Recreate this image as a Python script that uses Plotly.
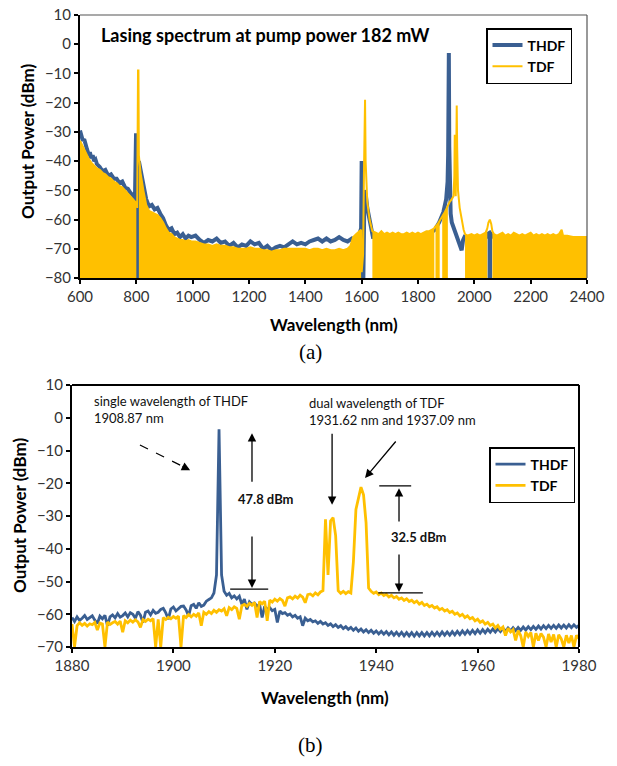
import plotly.graph_objects as go

# ---------------- Panel (a) data: full spectrum ----------------
wl_a_thdf = [600, 605, 610, 615, 620, 625, 630, 635, 640, 645, 650, 655, 660, 670, 680, 690, 700, 710, 720, 730,
             740, 750, 760, 770, 780, 790, 795, 799, 801, 802, 804, 806, 809, 815, 825, 835, 845, 855, 865, 875,
             885, 895, 905, 915, 925, 935, 945, 955, 965, 975, 985, 995, 1010, 1025, 1040, 1055, 1070, 1085, 1100,
             1115, 1130, 1145, 1160, 1175, 1190, 1205, 1220, 1235, 1250, 1265, 1280, 1295, 1310, 1325, 1340, 1355,
             1370, 1385, 1400, 1415, 1430, 1445, 1460, 1475, 1490, 1505, 1520, 1535, 1550, 1565, 1575, 1585, 1592,
             1598, 1600, 1601, 1603, 1606, 1610, 1615, 1620, 1625, 1630, 1635, 1640, 1660, 1700, 1750, 1800, 1840,
             1860, 1875, 1890, 1900, 1905, 1907, 1908.5, 1909.5, 1911, 1913, 1916, 1920, 1925, 1930, 1935, 1940,
             1945, 1950, 1955, 1960, 1965, 1975, 2000, 2030, 2043, 2047, 2055, 2063, 2080, 2150, 2250, 2350, 2400]
pw_a_thdf = [-29.5, -31, -33, -32.5, -35, -36, -37.5, -37, -39, -38, -40, -39.5, -41, -42, -43.5, -43, -45, -44.5, -46, -46,
             -47.5, -47, -49, -49.5, -51, -52, -53.5, -30.5, -52, -80, -80, -50, -40, -43, -48, -53, -55.5, -55, -56.5, -56,
             -58, -59.5, -62, -63.5, -63, -65, -64.5, -66, -65, -66.5, -65.5, -66, -65.5, -67, -68, -67, -67.5, -66.5, -68,
             -67.5, -69, -68, -69.5, -68.5, -69, -67.5, -68.5, -68, -70, -69, -70.5, -69.5, -69, -69.5, -68.5, -67.5,
             -68.5, -68, -68.5, -67.5, -67, -66.5, -67.5, -66.5, -67.5, -67, -66, -67, -67.5, -66.5, -67.5, -66, -65,
             -63, -40, -60, -80, -80, -50, -52, -56, -59, -62, -64, -66, -66, -66.5, -66.5, -66, -65,
             -63.5, -61, -57.5, -53, -47, -38, -10, -3, -35, -52, -58, -61, -62.5, -63.5, -65, -66.5,
             -68, -69.5, -70.5, -67, -66, -66.5, -67, -67, -66, -65, -64.5, -65.5, -67, -67, -67, -67, -67]

wl_a_tdf = [600, 605, 610, 620, 630, 640, 650, 660, 670, 680, 690, 700, 710, 720, 730, 740, 750, 760, 770, 780, 790,
            797, 800, 803, 806, 807.5, 809, 815, 825, 835, 845, 855, 865, 875, 885, 895, 905, 915, 925, 935, 945, 955,
            965, 975, 985, 995, 1010, 1025, 1040, 1055, 1070, 1085, 1100, 1115, 1130, 1145, 1160, 1175, 1190, 1205,
            1220, 1235, 1250, 1265, 1280, 1295, 1310, 1325, 1340, 1355, 1370, 1385, 1400, 1415, 1430, 1445, 1460,
            1475, 1490, 1505, 1520, 1535, 1550, 1560, 1570, 1580, 1590, 1598, 1600, 1605, 1608, 1610, 1612, 1614,
            1620, 1628, 1634, 1638, 1650, 1660, 1670, 1680, 1690, 1700, 1710, 1720, 1730, 1740, 1750, 1760, 1770,
            1780, 1790, 1800, 1810, 1820, 1830, 1840, 1850, 1858, 1860, 1862, 1870, 1877, 1880, 1886, 1895, 1900,
            1906, 1912, 1920, 1926, 1929, 1930.5, 1932, 1934, 1936, 1937.5, 1939, 1942, 1948, 1955, 1962, 1967,
            1975, 1990, 2000, 2010, 2020, 2030, 2040, 2046, 2050, 2055, 2060, 2064, 2070, 2080, 2090, 2100, 2110,
            2120, 2130, 2140, 2150, 2160, 2170, 2180, 2190, 2200, 2210, 2220, 2230, 2240, 2250, 2260, 2270, 2280,
            2290, 2300, 2310, 2315, 2330, 2350, 2370, 2390, 2400]
pw_a_tdf = [-33, -34, -35.5, -37, -39, -40.5, -41.5, -42.5, -43, -44, -44.5, -45.5, -46, -47, -47.5, -48.5, -49, -50, -51, -52, -53,
            -54, -54.5, -56, -9, -9, -38, -44, -50, -55, -57, -57.5, -58, -58.5, -59.5, -61, -63, -64.5, -65, -66, -66.5, -67,
            -67, -67.5, -67, -67.5, -67.5, -68, -68.5, -68.5, -69, -68.5, -69, -69, -69.5, -69.5, -70, -70, -70, -69.5,
            -70, -70, -70.5, -70.5, -71, -70.5, -70.5, -70, -70, -70, -70, -70, -70, -70.5, -70, -70, -70.5,
            -70, -70.5, -70.5, -70, -70.5, -70, -69, -66, -65, -64, -63.5, -78, -72, -45, -19, -19, -40,
            -54, -60, -63, -64, -64.5, -65, -64, -65, -64.5, -65, -64.5, -65, -64.5, -65, -65, -64.5, -65,
            -64.5, -65, -64.5, -65, -64.5, -64, -64, -63.5, -63, -62.5, -62.5, -61.5, -60.5, -60, -59, -57.5, -56.5,
            -55, -54, -53, -52, -45, -31, -45, -52, -35, -21, -35, -50, -56, -60, -63.5, -65,
            -65.5, -65, -65.5, -65, -65.5, -65, -64.5, -63, -61, -60, -61.5, -64, -65, -65.5, -65, -64.5, -65.5,
            -65, -65.5, -64.5, -65, -65.5, -65, -65.5, -65, -64.5, -65.5, -65, -65.5, -65, -65.5, -65, -65.5, -65,
            -65.5, -65, -63.5, -65.5, -65.5, -66, -66, -66, -66]

# wavelength intervals where the noisy trace looks filled down to the floor
thdf_a_fill_ranges = [(2047, 2063)]
tdf_a_fill_ranges = [(600, 800), (809, 1598), (1638, 1858), (1862, 1877), (1886, 1906), (1967, 2046), (2064, 2400)]

# ---------------- Panel (b) data: zoom 1880-1980 nm, OSA samples every 0.5 nm ----------------
wl_b = [1880 + 0.5 * i for i in range(201)]
pw_b_thdf = [
    -61.0, -62.2, -60.8, -61.9, -61.2, -60.4, -61.6, -60.9, -60.5, -61.8,   # 1880
    -62.8, -60.6, -61.4, -60.3, -63.5, -60.8, -60.2, -61.1, -59.8, -60.9,   # 1885
    -60.4, -59.6, -60.8, -59.5, -60.0, -61.2, -59.2, -60.3, -62.5, -59.4,   # 1890
    -59.0, -60.2, -58.8, -59.7, -59.4, -58.5, -58.2, -59.6, -61.5, -58.4,   # 1895
    -57.8, -59.0, -58.3, -57.6, -57.5, -58.7, -60.5, -57.4, -57.0, -58.2,   # 1900
    -56.5, -57.6, -57.2, -56.0, -55.5, -55.0, -53.5, -48.0, -3.5, -48.0,    # 1905
    -53.0, -54.2, -53.6, -55.0, -54.4, -55.3, -54.5, -57.0, -55.4, -58.5,   # 1910
    -56.2, -57.0, -56.6, -57.5, -57.0, -61.0, -57.6, -58.5, -58.0, -58.9,   # 1915
    -58.5, -62.5, -59.0, -59.8, -59.5, -60.3, -59.9, -60.8, -60.3, -61.2,   # 1920
    -60.8, -63.5, -61.2, -62.0, -61.6, -62.3, -62.0, -62.8, -62.2, -63.0,   # 1925
    -62.6, -63.4, -62.9, -63.8, -63.2, -64.0, -63.5, -64.4, -63.8, -64.6,   # 1930
    -64.0, -64.9, -64.2, -65.2, -64.5, -65.4, -64.7, -65.6, -64.9, -65.8,   # 1935
    -65.1, -66.0, -65.2, -66.1, -65.3, -66.3, -65.4, -66.4, -65.5, -66.5,   # 1940
    -65.5, -66.6, -65.6, -66.6, -65.6, -66.7, -65.6, -66.6, -65.6, -66.6,   # 1945
    -65.6, -66.6, -65.5, -66.5, -65.5, -66.5, -65.4, -66.4, -65.4, -66.4,   # 1950
    -65.3, -66.3, -65.2, -66.2, -65.1, -66.1, -65.0, -66.0, -64.9, -65.9,   # 1955
    -64.8, -65.8, -64.7, -65.7, -64.6, -65.5, -64.5, -65.4, -64.4, -65.3,   # 1960
    -64.3, -65.2, -64.2, -65.1, -64.1, -65.0, -64.0, -64.9, -63.9, -64.8,   # 1965
    -63.8, -64.7, -63.7, -64.6, -63.6, -64.5, -63.5, -64.4, -63.4, -64.3,   # 1970
    -63.4, -64.3, -63.3, -64.2, -63.3, -64.2, -63.2, -64.1, -63.2, -64.0,   # 1975
    -63.4]                                                                  # 1980
pw_b_tdf = [
    -63.0, -70.0, -63.5, -62.6, -63.4, -62.8, -63.6, -62.9, -63.2, -62.5,   # 1880
    -64.8, -62.7, -63.0, -70.0, -62.4, -63.1, -62.6, -62.2, -63.0, -62.1,   # 1885
    -65.5, -62.0, -62.6, -61.8, -62.4, -61.7, -62.3, -64.0, -61.6, -62.2,   # 1890
    -61.5, -62.0, -61.3, -70.0, -61.6, -70.0, -61.0, -61.6, -60.9, -61.4,   # 1895
    -60.7, -61.2, -60.6, -70.0, -60.4, -61.0, -60.1, -60.8, -60.0, -60.6,   # 1900
    -59.6, -63.5, -59.4, -60.0, -59.2, -59.8, -58.8, -59.4, -58.6, -59.0,   # 1905
    -58.3, -60.5, -58.0, -58.6, -57.7, -58.2, -61.5, -57.4, -57.0, -57.6,   # 1910
    -56.7, -57.3, -56.4, -61.0, -56.1, -56.8, -56.0, -62.0, -55.7, -56.3,   # 1915
    -55.4, -56.0, -55.2, -55.8, -57.5, -55.0, -54.7, -55.3, -54.5, -55.1,   # 1920
    -54.2, -54.8, -56.5, -54.0, -53.8, -54.4, -53.5, -54.1, -53.2, -52.8,   # 1925
    -31.0, -48.0, -31.5, -30.5, -36.0, -52.8, -53.6, -53.0, -53.7, -53.1,   # 1930
    -53.5, -44.0, -28.0, -24.5, -21.2, -23.5, -32.0, -52.0, -53.0, -53.6,   # 1935
    -53.2, -54.0, -53.5, -54.3, -53.9, -54.7, -54.2, -55.0, -54.6, -55.4,   # 1940
    -55.0, -55.8, -55.3, -56.1, -55.7, -56.5, -56.0, -56.9, -56.4, -57.3,   # 1945
    -56.9, -57.7, -57.3, -58.1, -57.7, -58.6, -58.2, -59.0, -58.6, -59.5,   # 1950
    -59.1, -60.0, -59.6, -60.5, -60.0, -61.0, -60.5, -61.4, -61.0, -62.0,   # 1955
    -61.5, -62.5, -62.0, -63.0, -62.5, -63.4, -63.0, -64.2, -63.4, -64.6,   # 1960
    -63.9, -66.5, -64.3, -65.4, -64.7, -68.0, -65.0, -66.5, -70.0, -65.4,   # 1965
    -66.8, -65.6, -70.0, -65.8, -68.0, -65.9, -67.0, -70.0, -66.0, -68.5,   # 1970
    -66.2, -70.0, -66.3, -67.5, -70.0, -66.4, -68.8, -66.5, -70.0, -66.4,   # 1975
    -67.5]                                                                  # 1980

x_ticks_a = [600, 800, 1000, 1200, 1400, 1600, 1800, 2000, 2200, 2400]
y_ticks_a = [10, 0, -10, -20, -30, -40, -50, -60, -70, -80]
x_ticks_b = [1880, 1900, 1920, 1940, 1960, 1980]
y_ticks_b = [10, 0, -10, -20, -30, -40, -50, -60, -70]

BLUE = "#3A5F92"
GOLD = "#FFC000"
FONT = "Lato"
FLOOR_A = -80


def fill_polygons(xs, ys, ranges, base):
    px, py = [], []
    for a, b in ranges:
        seg = [(x, y) for x, y in zip(xs, ys) if a <= x <= b]
        px += [a] + [p[0] for p in seg] + [b, None]
        py += [base] + [p[1] for p in seg] + [base, None]
    return px, py


fig = go.Figure()

# ---- panel (a) ----
fx, fy = fill_polygons(wl_a_thdf, pw_a_thdf, thdf_a_fill_ranges, FLOOR_A)
fig.add_trace(go.Scatter(x=fx, y=fy, fill="toself", mode="none", fillcolor=BLUE,
                         showlegend=False, hoverinfo="skip", xaxis="x", yaxis="y"))
fig.add_trace(go.Scatter(x=wl_a_thdf, y=pw_a_thdf, mode="lines", name="THDF",
                         line=dict(color=BLUE, width=4), xaxis="x", yaxis="y", legend="legend"))
fx, fy = fill_polygons(wl_a_tdf, pw_a_tdf, tdf_a_fill_ranges, FLOOR_A)
fig.add_trace(go.Scatter(x=fx, y=fy, fill="toself", mode="none", fillcolor=GOLD,
                         showlegend=False, hoverinfo="skip", xaxis="x", yaxis="y"))
fig.add_trace(go.Scatter(x=wl_a_tdf, y=pw_a_tdf, mode="lines", name="TDF",
                         line=dict(color=GOLD, width=2), xaxis="x", yaxis="y", legend="legend"))

# ---- panel (b) ----
fig.add_trace(go.Scatter(x=wl_b, y=pw_b_thdf, mode="lines", name="THDF",
                         line=dict(color=BLUE, width=2.8), xaxis="x2", yaxis="y2", legend="legend2"))
fig.add_trace(go.Scatter(x=wl_b, y=pw_b_tdf, mode="lines", name="TDF",
                         line=dict(color=GOLD, width=2.8), xaxis="x2", yaxis="y2", legend="legend2"))

tickfont = dict(family=FONT, size=15, color="#333333")
axis_common = dict(showline=True, linecolor="black", linewidth=2, ticks="outside", ticklen=4,
                   tickcolor="black", tickwidth=1.5, showgrid=False, zeroline=False, tickfont=tickfont,
                   mirror=False, automargin=False)

legend_font = dict(family=FONT, size=14, color="black", weight="bold")
fig.update_layout(
    width=617, height=766,
    margin=dict(l=0, r=0, t=0, b=0, pad=0, autoexpand=False),
    paper_bgcolor="white", plot_bgcolor="white",
    xaxis=dict(domain=[80 / 617, 587 / 617], range=[600, 2400], tickvals=x_ticks_a, anchor="y", **axis_common),
    yaxis=dict(domain=[1 - 278 / 766, 1 - 15 / 766], range=[-80, 10], tickvals=y_ticks_a, anchor="x", **axis_common),
    xaxis2=dict(domain=[72 / 617, 579 / 617], range=[1880, 1980], tickvals=x_ticks_b, anchor="y2", **axis_common),
    yaxis2=dict(domain=[1 - 647 / 766, 1 - 385 / 766], range=[-70, 10], tickvals=y_ticks_b, anchor="x2", **axis_common),
    legend=dict(x=486 / 617, y=1 - 28 / 766, xanchor="left", yanchor="top", bgcolor="white",
                bordercolor="black", borderwidth=1.5, font=legend_font, itemwidth=30, tracegroupgap=0),
    legend2=dict(x=489 / 617, y=1 - 447 / 766, xanchor="left", yanchor="top", bgcolor="white",
                 bordercolor="black", borderwidth=1.5, font=legend_font, itemwidth=30, tracegroupgap=0),
    showlegend=True,
)

# box lines (top / right)
for xr, yr, col, w in [("x", "y", "#555555", 1.2), ("x2", "y2", "black", 2)]:
    fig.add_shape(type="line", xref=f"{xr} domain", yref=f"{yr} domain", x0=0, x1=1, y0=1, y1=1,
                  line=dict(color=col, width=w))
    fig.add_shape(type="line", xref=f"{xr} domain", yref=f"{yr} domain", x0=1, x1=1, y0=0, y1=1,
                  line=dict(color=col, width=w))

bold = dict(family=FONT, size=17, color="black", weight="bold")
center = dict(xref="paper", yref="paper", showarrow=False, xanchor="center", yanchor="middle")
# axis titles and captions
fig.add_annotation(text="Wavelength (nm)", x=334 / 617, y=1 - 324 / 766, font=bold, **center)
fig.add_annotation(text="Output Power (dBm)", x=27 / 617, y=1 - 142 / 766, font=bold, textangle=-90, **center)
fig.add_annotation(text="Wavelength (nm)", x=325 / 617, y=1 - 697 / 766, font=bold, **center)
fig.add_annotation(text="Output Power (dBm)", x=19 / 617, y=1 - 516 / 766, font=bold, textangle=-90, **center)
fig.add_annotation(text="(a)", x=310 / 617, y=1 - 352 / 766,
                   font=dict(family="Liberation Serif", size=21, color="black"), **center)
fig.add_annotation(text="(b)", x=310 / 617, y=1 - 745 / 766,
                   font=dict(family="Liberation Serif", size=21, color="black"), **center)
fig.add_annotation(text="Lasing spectrum at pump power 182 mW", x=99 / 617, y=1 - 35 / 766, xref="paper",
                   yref="paper", xanchor="left", yanchor="middle", showarrow=False,
                   font=dict(family=FONT, size=18, color="black", weight="bold"))

# panel (b) annotations
note = dict(family=FONT, size=13, color="#111111")
fig.add_annotation(text="single wavelength of THDF<br>1908.87 nm", x=1884, y=2.4, xref="x2", yref="y2",
                   xanchor="left", yanchor="middle", align="left", showarrow=False, font=note)
fig.add_annotation(text="dual wavelength of TDF<br>1931.62 nm and 1937.09 nm", x=1926.4, y=1.9, xref="x2",
                   yref="y2", xanchor="left", yanchor="middle", align="left", showarrow=False, font=note)
fig.add_annotation(text="47.8 dBm", x=1918.3, y=-24.8, xref="x2", yref="y2", showarrow=False,
                   xanchor="center", yanchor="middle",
                   font=dict(family=FONT, size=13, color="#111111", weight="bold"))
fig.add_annotation(text="32.5 dBm", x=1948.4, y=-36.4, xref="x2", yref="y2", showarrow=False,
                   xanchor="center", yanchor="middle",
                   font=dict(family=FONT, size=13, color="#111111", weight="bold"))

arrow = dict(xref="x2", yref="y2", axref="x2", ayref="y2", text="", showarrow=True, arrowhead=2,
             arrowsize=1.3, arrowwidth=1.3, arrowcolor="black")
# dashed arrow to THDF peak
fig.add_shape(type="line", xref="x2", yref="y2", x0=1893.4, y0=-8.3, x1=1902.0, y1=-15.0,
              line=dict(color="black", width=1.2, dash="dash"))
fig.add_annotation(x=1903.3, y=-16.0, ax=1901.5, ay=-14.6, **arrow)
# 47.8 dBm marker
fig.add_annotation(x=1915.5, y=-4.7, ax=1915.5, ay=-20.0, **arrow)
fig.add_annotation(x=1915.5, y=-52.0, ax=1915.5, ay=-35.8, **arrow)
fig.add_shape(type="line", xref="x2", yref="y2", x0=1911.2, x1=1918.7, y0=-52.3, y1=-52.3,
              line=dict(color="black", width=1.3))
# arrows to TDF peaks
fig.add_annotation(x=1931.3, y=-26.6, ax=1931.3, ay=-4.4, **arrow)
fig.add_annotation(x=1937.8, y=-18.4, ax=1944.1, ay=-6.8, **arrow)
# 32.5 dBm marker
fig.add_shape(type="line", xref="x2", yref="y2", x0=1940.6, x1=1946.9, y0=-20.8, y1=-20.8,
              line=dict(color="black", width=1.3))
fig.add_annotation(x=1944.5, y=-21.5, ax=1944.5, ay=-32.1, **arrow)
fig.add_annotation(x=1944.5, y=-53.2, ax=1944.5, ay=-41.3, **arrow)
fig.add_shape(type="line", xref="x2", yref="y2", x0=1940.4, x1=1949.2, y0=-53.5, y1=-53.5,
              line=dict(color="black", width=1.3))

fig.write_html("out.html", config={"displayModeBar": False},
               post_script="document.body.style.margin='0px';")
